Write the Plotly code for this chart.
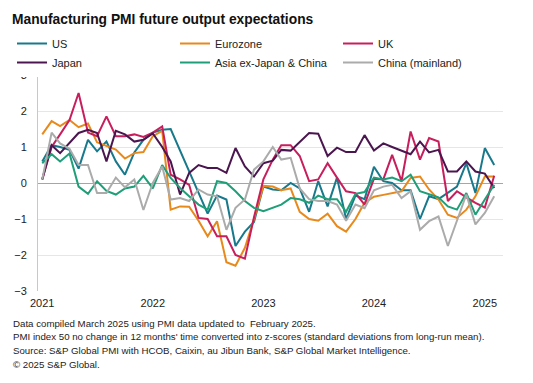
import plotly.graph_objects as go
import pandas as pd

months = pd.date_range("2021-01-01", "2025-02-01", freq="MS").strftime("%Y-%m-%d").tolist()

us = [0.6, 1.05, 1.0, 0.92, 0.4, 1.2, 0.88, 1.15, 0.6, 0.23, 0.85, 1.2, 1.4, 1.48, 1.5, 0.9, 0.32, -0.3,
      -0.85, -0.35, -0.46, -1.75, -1.35, -1.08, -0.1, -0.18, -0.2, 0.0, -0.15, -0.8, 0.05, -0.65, 0.15, -1.0,
      -0.35, -0.45, 0.45, 0.05, 0.0, -0.2, -0.2, -1.0, -0.37, -0.45, -0.28, -0.1, 0.55, -0.28, 0.97, 0.5]
eurozone = [1.35, 1.72, 1.58, 1.75, 1.55, 1.65, 1.13, 1.04, 0.93, 0.68, 0.83, 0.86, 1.3, 1.45, -0.74, -0.65,
            -0.66, -1.05, -1.48, -1.06, -2.2, -2.3, -1.8, -1.0, -0.08, -0.1, -0.2, -0.15, -0.8, -1.0, -1.05,
            -0.85, -1.2, -1.35, -1.0, -0.55, -0.38, -0.33, -0.28, -0.23, 0.14, 0.18, -0.18, -0.46, -0.88, -0.97,
            -0.74, -0.37, 0.18, 0.18]
uk = [0.1, 1.0, 1.35, 1.75, 2.5, 1.4, 1.3, 1.85, 1.3, 1.3, 1.35, 1.28, 1.4, 1.57, 0.23, 0.1, -0.05, -0.97,
      -1.0, -1.48, -1.48, -2.0, -2.1, -0.95, 0.1, 0.65, 1.05, 1.05, 0.75, 0.05, 0.1, 0.55, 0.15, -0.23, -0.28,
      -0.6, 0.12, 0.1, 0.78, 0.05, 1.43, 0.65, 1.25, 1.15, -0.5, -0.23, -0.4, -0.55, -0.68, 0.2]
japan = [0.1, 1.05, 0.83, 1.1, 1.39, 1.48, 1.39, 0.6, 1.45, 1.35, 1.15, 1.2, 1.38, 1.0, 0.6, -0.32, 0.28, 0.5,
         0.42, 0.42, 0.28, 0.97, 0.46, 0.18, 0.55, 0.62, 0.92, 0.9, 1.15, 1.39, 1.37, 0.75, 0.98, 0.86, 0.86, 1.33,
         0.9, 1.1, 1.0, 0.9, 0.8, 1.15, 0.85, 0.92, 0.32, 0.32, 0.6, 0.32, 0.26, -0.14]
asia = [0.55, 0.8, 0.6, 0.82, -0.1, -0.3, 0.05, -0.22, -0.32, -0.15, -0.1, 0.2, -0.15, 0.5, 0.14, -0.14, -0.37,
        -0.6, -0.74, 0.05, 0.0, -0.23, -0.5, -0.69, -0.78, -0.68, -0.6, -0.42, -0.45, -0.55, -0.35, -0.45, -0.45,
        -0.8, -0.3, -0.25, 0.15, 0.1, 0.15, 0.05, 0.23, -0.23, -0.32, -0.4, -0.65, -0.74, -0.28, -0.88, -0.46, -0.05]
china = [0.1, 1.4, 1.1, 0.95, 0.5, 0.5, -0.28, -0.28, 0.15, -0.12, 0.1, -0.75, 0.0, 0.46, -0.46, -0.42, -0.5,
         -0.18, -0.32, -0.37, -1.3, -0.69, -0.46, 0.37, 0.6, 1.0, 0.65, 0.7, -0.15, -0.45, -0.5, -0.5, -0.6,
         -1.05, -0.6, -0.7, -0.2, -0.1, -0.05, -0.42, -0.23, -1.3, -1.06, -0.93, -1.75, -1.06, -0.32, -1.15, -0.83, -0.37]

series_names = ["US", "Eurozone", "UK", "Japan", "Asia ex-Japan & China", "China (mainland)"]
series_values = [us, eurozone, uk, japan, asia, china]
series_colors = ["#17798b", "#e8891c", "#c81f5c", "#4b164f", "#1f9e78", "#ababab"]

year_ticks = ["2021-01-01", "2022-01-01", "2023-01-01", "2024-01-01", "2025-01-01"]
year_labels = ["2021", "2022", "2023", "2024", "2025"]
y_ticks = [-3, -2, -1, 0, 1, 2, 3]

footnotes = [
    "Data compiled March 2025 using PMI data updated to  February 2025.",
    "PMI index 50 no change in 12 months' time converted into z-scores (standard deviations from long-run mean).",
    "Source: S&P Global PMI with HCOB, Caixin, au Jibun Bank, S&P Global Market Intelligence.",
    "© 2025 S&P Global.",
]

font_family = "Arial, Liberation Sans, sans-serif"
# the page body adds an 8px offset; the figure is sized and placed to compensate
OFF = 8
W, H = 533 - 2 * OFF, 383 - 2 * OFF
PLOT_L, PLOT_R, PLOT_T, PLOT_B = 38 - OFF, 503 - OFF, 75 - OFF, 291 - OFF
ML, MR, MT, MB = PLOT_L, W - PLOT_R, PLOT_T, H - PLOT_B
PW, PH = PLOT_R - PLOT_L, PLOT_B - PLOT_T

def px_x(px):
    return (px - OFF - ML) / PW

def px_y(py):
    return (PLOT_B - (py - OFF)) / PH

fig = go.Figure()
for name, vals, col in zip(series_names, series_values, series_colors):
    fig.add_trace(go.Scatter(x=months, y=vals, name=name, mode="lines",
                             line=dict(color=col, width=2)))

fig.update_layout(
    width=W, height=H,
    margin=dict(l=ML, r=MR, t=MT, b=MB, autoexpand=False),
    paper_bgcolor="white", plot_bgcolor="white",
    font=dict(family=font_family, size=11, color="#222"),
    title=dict(text="Manufacturing PMI future output expectations", x=(12 - OFF) / W, xanchor="left",
               y=1 - (19 - OFF) / H, yanchor="middle", font=dict(size=13.8, weight=700, color="#111")),
    legend=dict(orientation="h", x=px_x(12), xanchor="left", y=px_y(29), yanchor="top",
                entrywidth=118, entrywidthmode="pixels", itemwidth=30,
                font=dict(size=11, color="#222"), tracegroupgap=0),
    showlegend=True,
)
fig.update_xaxes(range=["2020-12-18", "2025-03-02"], tickvals=year_ticks, ticktext=year_labels,
                 showgrid=False, zeroline=False, showline=False, ticks="", ticklabelstandoff=4,
                 tickfont=dict(size=11, color="#222"))
fig.update_yaxes(range=[-3, 3], tickvals=y_ticks, showgrid=True, gridcolor="#e6e6e6", gridwidth=1,
                 zeroline=True, zerolinecolor="#a6a6a6", zerolinewidth=1,
                 showline=True, linecolor="#c8c8c8", linewidth=1, ticks="", ticklabelstandoff=8,
                 tickfont=dict(size=11, color="#222"))

for i, line in enumerate(footnotes):
    fig.add_annotation(text=line, xref="paper", yref="paper", x=px_x(11), y=px_y(323 + 13.8 * i),
                       xanchor="left", yanchor="middle", align="left", showarrow=False,
                       font=dict(size=9.7, color="#222"))

fig.write_html("out.html")
